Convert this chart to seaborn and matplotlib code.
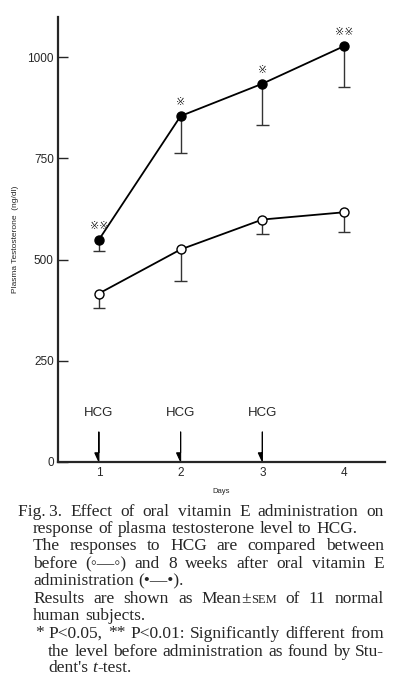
import numpy as np
import pandas as pd
import matplotlib
matplotlib.use("Agg")
import matplotlib.pyplot as plt
import seaborn as sns

# values
days = [1, 2, 3, 4]
before_mean = [416, 525, 599, 617]
before_low = [380, 446, 564, 567]
after_mean = [549, 855, 935, 1028]
after_low = [521, 763, 833, 928]
after_marks = ["※※", "※", "※", "※※"]
hcg_days = [1, 2, 3]
y_ticks = [0, 250, 500, 750, 1000]

sns.set_style("ticks")
plt.rcParams['font.family'] = ['Liberation Sans', 'DejaVu Sans', 'Noto Sans CJK JP']

W, H = 402, 680
fig = plt.figure(figsize=(W / 100, H / 100), dpi=100)
ax = fig.add_axes([58 / W, 1 - 461.7 / H, (385 - 58) / W, (461.7 - 17) / H])

before = pd.DataFrame({"day": days, "val": before_mean})
after = pd.DataFrame({"day": days, "val": after_mean})

# one-sided (lower) error bars
for low, mean in [(before_low, before_mean), (after_low, after_mean)]:
    ax.vlines(days, low, mean, color="#333333", lw=1.0, zorder=2)
    ax.hlines(low, np.array(days) - 0.075, np.array(days) + 0.075, color="#333333", lw=1.0, zorder=2)

sns.lineplot(data=before, x="day", y="val", ax=ax, color="black", lw=1.3,
             marker="o", markersize=6.5, markerfacecolor="white",
             markeredgecolor="black", markeredgewidth=1.0, zorder=3)
sns.lineplot(data=after, x="day", y="val", ax=ax, color="black", lw=1.3,
             marker="o", markersize=6.5, markerfacecolor="black",
             markeredgecolor="black", markeredgewidth=1.0, zorder=3)

for d, v, s in zip(days, after_mean, after_marks):
    ax.annotate(s, (d, v), xytext=(0, 10), textcoords="offset points",
                ha="center", va="center", fontsize=8, color="#222222")

# HCG injections
for d in hcg_days:
    ax.text(d, 120, "HCG", ha="center", va="center", fontsize=9.5)
    ax.arrow(d, 74, 0, -74, length_includes_head=True, head_width=0.1,
             head_length=22, shape="left", color="black", lw=0.8)

ax.set_xlim(0.5, 4.5)
ax.set_ylim(0, 1100)
ax.set_xticks(days)
ax.set_yticks(y_ticks)
ax.tick_params(axis="y", direction="in", length=7, width=1.0, labelsize=8.5, pad=3)
ax.tick_params(axis="x", length=0, labelsize=8.5, pad=4)
sns.despine(ax=ax)
for sp in ["left", "bottom"]:
    ax.spines[sp].set_linewidth(1.6)
ax.set_xlabel("Days", fontsize=5.5, labelpad=6)
ax.set_ylabel("Plasma Testosterone  (ng/dl)", fontsize=6, labelpad=6)

# caption, justified by hand
serif = ['Liberation Serif', 'DejaVu Serif']
fs = 12.5
renderer = fig.canvas.get_renderer()


def put_line(words, yc, x0, x1=None):
    items = []
    widths = []
    for word in words:
        if isinstance(word, str):
            word = [(word, {})]
        segs = []
        w = 0
        for txt, kw in word:
            props = dict(fontsize=fs, family=serif)
            props.update(kw)
            t = fig.text(0, 0, txt, va="baseline", ha="left", **props)
            ww = t.get_window_extent(renderer).width
            segs.append((t, w))
            w += ww
        items.append(segs)
        widths.append(w)
    if x1 is not None and len(words) > 1:
        gap = (x1 - x0 - sum(widths)) / (len(words) - 1)
    else:
        gap = 0.27 * fs * 100 / 72
    x = x0
    for segs, w in zip(items, widths):
        for t, off in segs:
            t.set_position(((x + off) / W, 1 - (yc + 4.5) / H))
        x += w + gap


R = 384
put_line(["Fig.\u20093.", "Effect", "of", "oral", "vitamin", "E", "administration", "on"], 511.7, 18, R)
put_line(["response", "of", "plasma", "testosterone", "level", "to", "HCG."], 528.5, 33)
put_line(["The", "responses", "to", "HCG", "are", "compared", "between"], 545.5, 33, R)
put_line(["before", "(◦—◦)", "and", "8", "weeks", "after", "oral", "vitamin", "E"], 563.5, 33, R)
put_line(["administration", "(•—•)."], 580.5, 33)
put_line(["Results", "are", "shown", "as", [("Mean", {}), ("±", {}), ("SEM", {"fontsize": fs * 0.72})],
          "of", "11", "normal"], 598.5, 33, R)
put_line(["human", "subjects."], 615.5, 33)
put_line(["*", "P<0.05,", "**", "P<0.01:", "Significantly", "different", "from"],
         633, 35, R)
put_line(["the", "level", "before", "administration", "as", "found", "by", "Stu-"], 651, 48, R)
put_line(["dent's", [("t", {"style": "italic"}), ("-test.", {})]], 668, 48)

fig.savefig("out.png", dpi=100)
